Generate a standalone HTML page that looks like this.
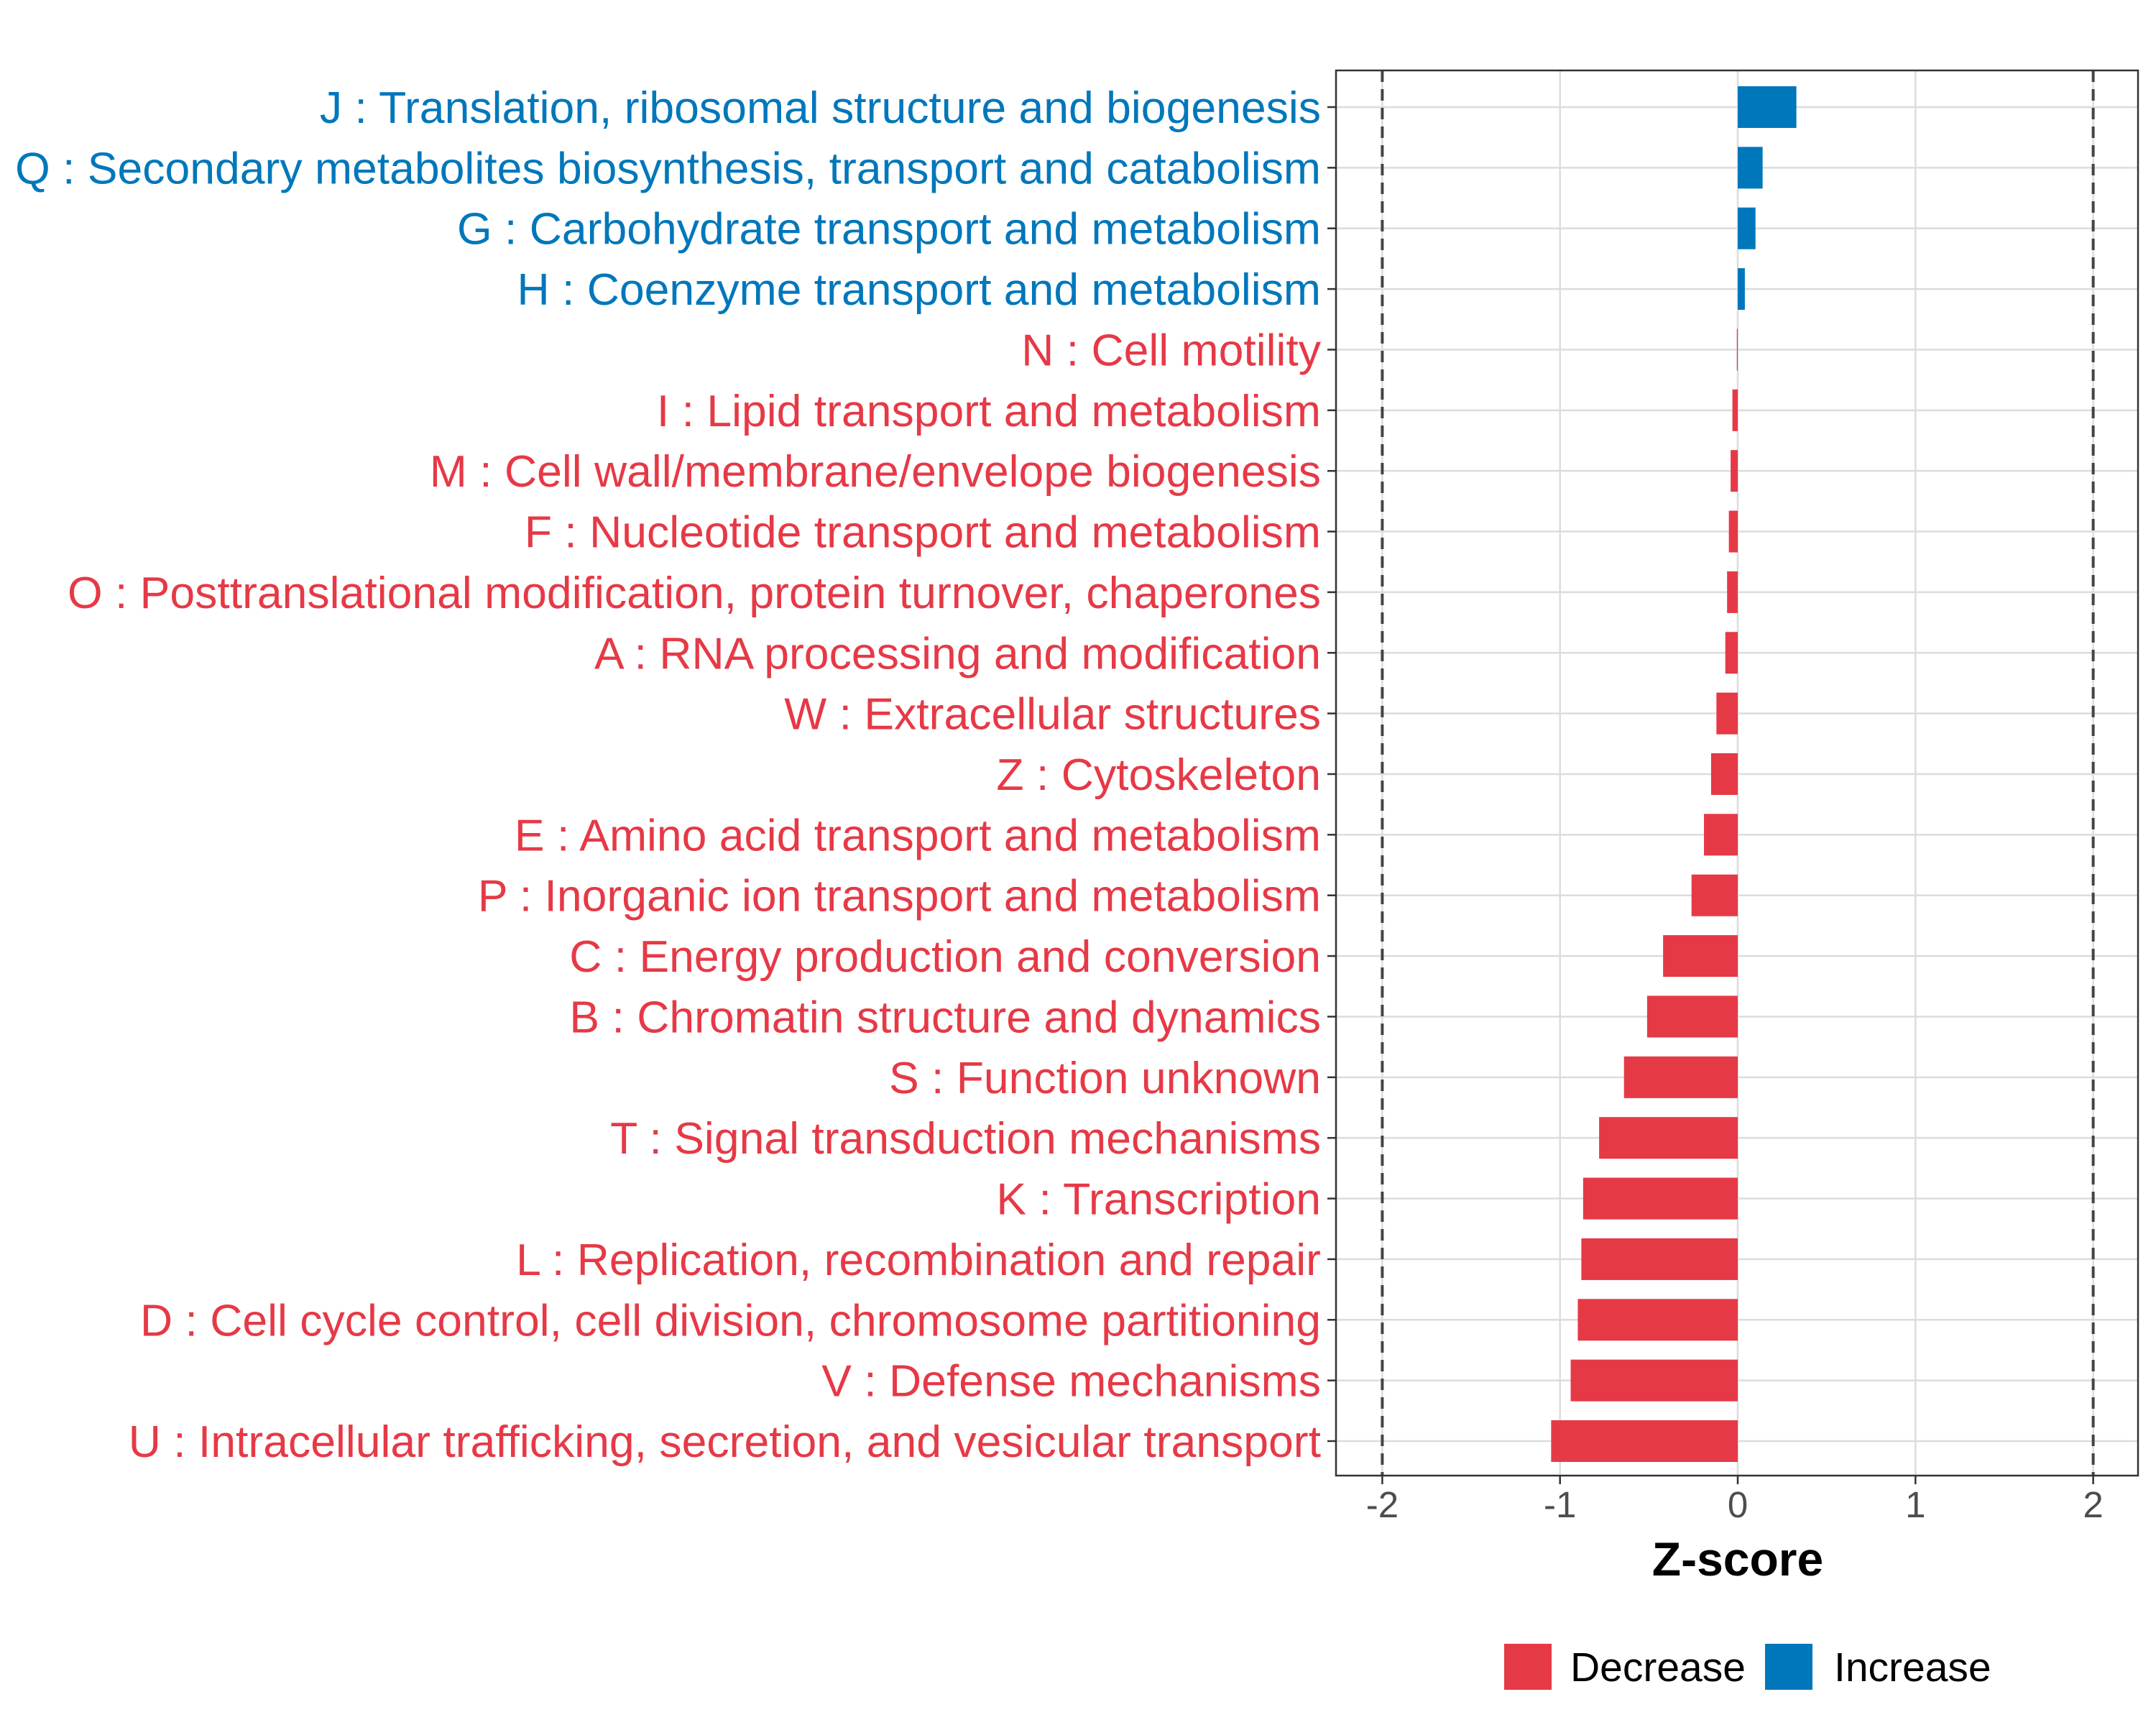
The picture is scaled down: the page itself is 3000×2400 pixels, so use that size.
<!DOCTYPE html>
<html><head><meta charset="utf-8"><style>body{margin:0;background:#fff}svg{display:block}</style></head>
<body>
<svg id="chart" width="3000" height="2400" xmlns="http://www.w3.org/2000/svg" font-family="Liberation Sans, sans-serif"></svg>
<script>
const categories = ["J : Translation, ribosomal structure and biogenesis","Q : Secondary metabolites biosynthesis, transport and catabolism","G : Carbohydrate transport and metabolism","H : Coenzyme transport and metabolism","N : Cell motility","I : Lipid transport and metabolism","M : Cell wall/membrane/envelope biogenesis","F : Nucleotide transport and metabolism","O : Posttranslational modification, protein turnover, chaperones","A : RNA processing and modification","W : Extracellular structures","Z : Cytoskeleton","E : Amino acid transport and metabolism","P : Inorganic ion transport and metabolism","C : Energy production and conversion","B : Chromatin structure and dynamics","S : Function unknown","T : Signal transduction mechanisms","K : Transcription","L : Replication, recombination and repair","D : Cell cycle control, cell division, chromosome partitioning","V : Defense mechanisms","U : Intracellular trafficking, secretion, and vesicular transport"];
const zscores = [0.33,0.14,0.10,0.04,-0.005,-0.03,-0.04,-0.05,-0.06,-0.07,-0.12,-0.15,-0.19,-0.26,-0.42,-0.51,-0.64,-0.78,-0.87,-0.88,-0.90,-0.94,-1.05];
const xTicks = [-2,-1,0,1,2];
const xTickLabels = ["-2","-1","0","1","2"];
const thresholds = [-2,2];

const NS="http://www.w3.org/2000/svg", svg=document.getElementById('chart');
const L=1859,R=2975,T=98,B=2053;
const X=v=>2418+v*247.3;
const Y=i=>149+i*(2005-149)/(categories.length-1);
const RED="#E63946",BLUE="#0077BB";
function mk(t,a,p){const e=document.createElementNS(NS,t);for(const k in a)e.setAttribute(k,a[k]);(p||svg).appendChild(e);return e;}
const grid=mk('g',{});


xTicks.forEach(v=>mk('line',{x1:X(v),x2:X(v),y1:T,y2:B,stroke:"#dcdcdc","stroke-width":2.5},grid));
categories.forEach((c,i)=>mk('line',{x1:L,x2:R,y1:Y(i),y2:Y(i),stroke:"#dcdcdc","stroke-width":2.5},grid));
thresholds.forEach(v=>{const l=mk('line',{x1:X(v),x2:X(v),y1:T,y2:B,stroke:"#444","stroke-width":4,"stroke-dasharray":"16,10"});

});
categories.forEach((c,i)=>{const v=zscores[i],col=v>=0?BLUE:RED;
const r=mk('rect',{x:Math.min(X(0),X(v)),y:Y(i)-29,width:Math.max(Math.abs(X(v)-X(0)),1),height:58,fill:col});


mk('line',{x1:L-12,x2:L,y1:Y(i),y2:Y(i),stroke:"#333","stroke-width":2.5});
const t=mk('text',{x:1838,y:Y(i)+22,"text-anchor":"end","font-size":62.5,fill:col});t.textContent=c;

});
mk('rect',{x:L,y:T,width:R-L,height:B-T,fill:"none",stroke:"#333","stroke-width":2.5});
xTicks.forEach((v,i)=>{mk('line',{x1:X(v),x2:X(v),y1:B,y2:B+12,stroke:"#333","stroke-width":2.5});
const t=mk('text',{x:X(v),y:B+58,"text-anchor":"middle","font-size":51,fill:"#4d4d4d"});t.textContent=xTickLabels[i];

});
const xt=mk('text',{x:X(0),y:2192,"text-anchor":"middle","font-size":66,"font-weight":"bold",fill:"#000"});xt.textContent="Z-score";


const lg=mk('g',{});


[[2093,RED,"Decrease",2185],[2456,BLUE,"Increase",2552]].forEach(([x,c,s,tx])=>{
const g=mk('g',{},lg);


mk('rect',{x:x,y:2287,width:66,height:64,fill:c},g);
const t=mk('text',{x:tx,y:2339,"font-size":57,fill:"#000"},g);t.textContent=s;});
</script>
</body></html>
